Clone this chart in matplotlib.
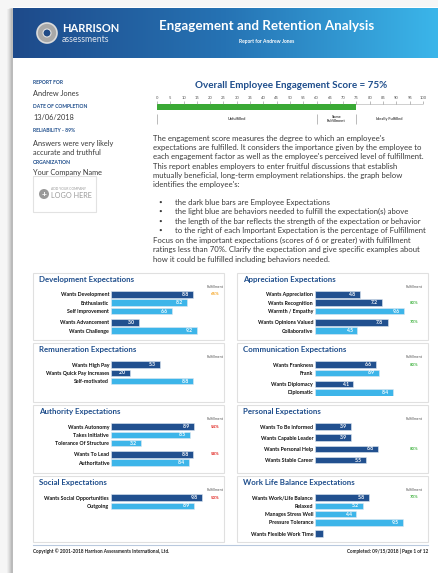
import numpy as np
import matplotlib.pyplot as plt
from matplotlib.patches import Rectangle, Circle
from matplotlib.colors import LinearSegmentedColormap

plt.rcParams['font.family'] = ['Lato', 'DejaVu Sans']

W, H = 439, 573
NAVY = '#1f4e8c'
DARK = '#21508f'
LIGHT = '#3db5e9'
TXT = '#3a3a3a'

# ---- data -------------------------------------------------------------
overall_score = 75
score_ticks = list(range(0, 101, 5))
zone_edges = [0, 60, 75, 100]
zone_labels = ['Unfulfilled', 'Some\nFulfillment', 'Ideally Fulfilled']

info_labels = ['REPORT FOR', 'DATE OF COMPLETION', 'RELIABILITY - 89%', 'ORGANIZATION']
info_values = ['Andrew Jones', '13/06/2018', 'Answers were very likely\naccurate and truthful',
               'Your Company Name']

intro_lines = [
    "The engagement score measures the degree to which an employee's",
    "expectations are fulfilled. It considers the importance given by the employee to",
    "each engagement factor as well as the employee's perceived level of fulfillment.",
    "This report enables employers to enter fruitful discussions that establish",
    "mutually beneficial, long-term employment relationships. the graph below",
    "identifies the employee's:",
]
bullet_lines = [
    "the dark blue bars are Employee Expectations",
    "the light blue are behaviors needed to fulfill the expectation(s) above",
    "the length of the bar reflects the strength of the expectation or behavior",
    "to the right of each Important Expectation is the percentage of Fulfillment",
]
focus_lines = [
    "Focus on the important expectations (scores of 6 or greater) with fulfillment",
    "ratings less than 70%. Clarify the expectation and give specific examples about",
    "how it could be fulfilled including behaviors needed.",
]

# E = expectation (dark bar), B = behaviour (light bar)
dev_names = ['Wants Development', 'Enthusiastic', 'Self Improvement', 'Wants Advancement', 'Wants Challenge']
dev_values = [8.8, 8.2, 6.6, 3.0, 9.2]
dev_kind = ['E', 'B', 'B', 'E', 'B']
dev_group = [0, 0, 0, 1, 1]
dev_fulfil = [65, None, None, None, None]

appr_names = ['Wants Appreciation', 'Wants Recognition', 'Warmth / Empathy', 'Wants Opinions Valued', 'Collaborative']
appr_values = [4.8, 7.2, 9.6, 7.8, 4.5]
appr_kind = ['E', 'E', 'B', 'E', 'B']
appr_group = [0, 0, 0, 1, 1]
appr_fulfil = [None, 80, None, 70, None]

rem_names = ['Wants High Pay', 'Wants Quick Pay Increases', 'Self-motivated']
rem_values = [5.3, 2.0, 8.8]
rem_kind = ['E', 'E', 'B']
rem_group = [0, 0, 0]
rem_fulfil = [None, None, None]

comm_names = ['Wants Frankness', 'Frank', 'Wants Diplomacy', 'Diplomatic']
comm_values = [6.6, 6.9, 4.1, 8.4]
comm_kind = ['E', 'B', 'E', 'B']
comm_group = [0, 0, 1, 1]
comm_fulfil = [80, None, None, None]

auth_names = ['Wants Autonomy', 'Takes Initiative', 'Tolerance Of Structure', 'Wants To Lead', 'Authoritative']
auth_values = [8.9, 8.5, 3.2, 8.8, 8.4]
auth_kind = ['E', 'B', 'B', 'E', 'B']
auth_group = [0, 0, 0, 1, 1]
auth_fulfil = [54, None, None, 58, None]

pers_names = ['Wants To Be Informed', 'Wants Capable Leader', 'Wants Personal Help', 'Wants Stable Career']
pers_values = [3.9, 3.9, 6.8, 5.5]
pers_kind = ['E', 'E', 'E', 'E']
pers_group = [0, 1, 2, 3]
pers_fulfil = [None, None, 80, None]

soc_names = ['Wants Social Opportunities', 'Outgoing']
soc_values = [9.8, 8.9]
soc_kind = ['E', 'B']
soc_group = [0, 0]
soc_fulfil = [50, None]

wl_names = ['Wants Work/Life Balance', 'Relaxed', 'Manages Stress Well', 'Pressure Tolerance', 'Wants Flexible Work Time']
wl_values = [5.8, 5.2, 4.4, 9.5, 0.9]
wl_kind = ['E', 'B', 'B', 'B', 'E']
wl_group = [0, 0, 0, 0, 1]
wl_fulfil = [70, None, None, None, None]

panels = [
    ('Development Expectations', dev_names, dev_values, dev_kind, dev_group, dev_fulfil),
    ('Appreciation Expectations', appr_names, appr_values, appr_kind, appr_group, appr_fulfil),
    ('Remuneration Expectations', rem_names, rem_values, rem_kind, rem_group, rem_fulfil),
    ('Communication Expectations', comm_names, comm_values, comm_kind, comm_group, comm_fulfil),
    ('Authority Expectations', auth_names, auth_values, auth_kind, auth_group, auth_fulfil),
    ('Personal Expectations', pers_names, pers_values, pers_kind, pers_group, pers_fulfil),
    ('Social Expectations', soc_names, soc_values, soc_kind, soc_group, soc_fulfil),
    ('Work Life Balance Expectations', wl_names, wl_values, wl_kind, wl_group, wl_fulfil),
]


def frac(x, y, w, h):
    # pixel box (top-left origin) -> figure fraction
    return [x / W, 1 - (y + h) / H, w / W, h / H]


fig = plt.figure(figsize=(W / 100, H / 100), dpi=100, facecolor='#f6f6f6')
page = fig.add_axes([0, 0, 1, 1])
page.set_xlim(0, W)
page.set_ylim(H, 0)
page.axis('off')

# page + soft shadow
for i, a in enumerate([0.03, 0.04, 0.05, 0.06, 0.08]):
    off = 6 - i
    page.add_patch(Rectangle((13 - off, 7 + off * 0.3), W, H, fc='black', alpha=a, lw=0))
page.add_patch(Rectangle((13, 7), W, H, fc='white', lw=0))

# header band
grad = LinearSegmentedColormap.from_list('hdr', ['#1e4a8a', '#2673b4', '#3bb6ea'])
page.imshow(np.linspace(0, 1, 256)[None, :], cmap=grad, aspect='auto',
            extent=[13, W, 58, 8], zorder=1)
page.add_patch(Circle((47, 33), 10, fc='#a8a8a8', ec='#dcdcdc', lw=1.2, zorder=2))
page.add_patch(Circle((47, 33), 4, fc='#1f4a86', ec='#e0e0e0', lw=0.8, zorder=3))
page.text(62, 29, 'HARRISON', color='white', fontsize=8, fontweight='bold', va='center', zorder=3)
page.text(62, 40, 'assessments', color='#dfe4ec', fontsize=6.3, va='center', zorder=3)
page.text(267, 26, 'Engagement and Retention Analysis', color='white', fontsize=9.6,
          fontweight='bold', ha='center', va='center', zorder=3)
page.text(267, 41, 'Report for Andrew Jones', color='white', fontsize=3.6,
          fontweight='bold', ha='center', va='center', zorder=3)

# left info column
info_y = [83, 107, 130, 163]
for lab, val, y in zip(info_labels, info_values, info_y):
    page.text(33, y, lab, color=NAVY, fontsize=3.6, fontweight='bold', va='center')
    page.text(33, y + 10, val, color=TXT, fontsize=5.3, va='top' if '\n' in val else 'center',
              linespacing=1.35)
page.add_patch(Rectangle((33, 176), 63, 36, fc='white', ec='#e2e2e2', lw=0.8))
page.add_patch(Circle((44, 194), 5, fc='#9a9a9a', lw=0))
page.text(44, 194, '+', color='white', fontsize=6, fontweight='bold', ha='center', va='center')
page.text(51, 189, 'ADD YOUR COMPANY', color='#9a9a9a', fontsize=2.4, va='center')
page.text(51, 196, 'LOGO HERE', color='#9a9a9a', fontsize=5.2, va='center')

# overall score gauge
page.text(291, 86, f'Overall Employee Engagement Score = {overall_score}%', color=NAVY,
          fontsize=7.1, fontweight='bold', ha='center', va='center')
gx = fig.add_axes(frac(157, 104.5, 266, 5.5))
gx.barh([0], [100], height=1, color='white', edgecolor='#c8c8c8', lw=0.6)
gx.barh([0], [overall_score], height=1, color='#3aa935', lw=0)
gx.set_xlim(0, 100)
gx.set_ylim(-0.5, 0.5)
gx.xaxis.tick_top()
gx.set_xticks(score_ticks)
gx.tick_params(axis='x', labelsize=3, length=2, width=0.4, color='#888888',
               labelcolor='#555555', pad=1.2)
gx.set_yticks([])
for s in gx.spines.values():
    s.set_visible(False)

zx = fig.add_axes(frac(157, 113, 266, 12))
zx.set_xlim(0, 100)
zx.set_ylim(1, 0)
zx.axis('off')
zx.vlines(zone_edges, 0.05, 0.95, color='#b0b0b0', lw=0.6)
for lo, hi, lab in zip(zone_edges[:-1], zone_edges[1:], zone_labels):
    zx.text((lo + hi) / 2, 0.5, lab, ha='center', va='center', fontsize=2.8,
            fontweight='bold', color='#444444', linespacing=1.3)

# explanatory text
FS = 5.6
y = 138
for line in intro_lines:
    page.text(153, y, line, color=TXT, fontsize=FS, va='center')
    y += 9.4
y = 202
for line in bullet_lines:
    page.text(158, y, '•', color=TXT, fontsize=4.5, va='center')
    page.text(175, y, line, color=TXT, fontsize=FS, va='center')
    y += 9.6
y = 240.5
for line in focus_lines:
    page.text(153, y, line, color=TXT, fontsize=FS, va='center')
    y += 9.4

# expectation panels
col_x = [33, 237]
row_top = [273, 343, 405, 476]
row_bot = [340, 402, 473, 542]
step = 8.3          # px per bar row
gap = 0.35          # extra space between groups (in rows)
bar_w = 93          # px for a score of 10

for k, (title, names, values, kind, group, fulfil) in enumerate(panels):
    px, r = col_x[k % 2], k // 2
    top = row_top[r]
    page.add_patch(Rectangle((px, top), 191, row_bot[r] - top, fc='white', ec='#e0e0e0', lw=0.8))
    page.text(px + 6, top + 6.5, title, color=NAVY, fontsize=5.7, fontweight='bold', va='center')

    pos = np.arange(len(names)) + gap * np.array(group)
    first = top + 21.5
    ax = fig.add_axes(frac(px + 78, first - step / 2, bar_w, (pos[-1] + 1) * step))
    cols = [DARK if c == 'E' else LIGHT for c in kind]
    ax.barh(pos, values, height=6.6 / step, color=cols, edgecolor='#dfe8f2', lw=0.4)
    ax.set_xlim(0, 10)
    ax.set_ylim(pos[-1] + 0.5, -0.5)
    for s in ax.spines.values():
        s.set_visible(False)
    ax.set_xticks([])
    ax.set_yticks(pos, names)
    ax.tick_params(axis='y', length=0, pad=1.4, labelsize=3.8, labelcolor='#111111')
    for t in ax.get_yticklabels():
        t.set_fontweight('bold')
    for p, v in zip(pos, values):
        if v >= 1.5:
            ax.text(v - 0.45, p, f'{v:.1f}', ha='right', va='center', color='white',
                    fontsize=3.6, fontweight='bold')
    fx = 11.2 if k % 2 == 0 else 10.7
    ax.text(fx, -0.85, 'Fulfillment', ha='center', va='center', fontsize=2.6,
            color='#555555', clip_on=False)
    for p, f in zip(pos, fulfil):
        if f is None:
            continue
        c = '#e0201b' if f < 60 else ('#f5a21b' if f < 70 else '#49b649')
        ax.text(fx, p, f'{f}%', ha='center', va='center', fontsize=3.2,
                fontweight='bold', color=c, clip_on=False)

# footer
page.plot([33, 428], [545, 545], color='#b9c9de', lw=0.8)
page.text(33, 551.5, 'Copyright © 2001-2018 Harrison Assessments International, Ltd.',
          color='#222222', fontsize=3.4, fontweight='bold', va='center')
page.text(428, 551.5, 'Completed: 09/15/2018 | Page 1 of 12', color='#222222',
          fontsize=3.4, fontweight='bold', va='center', ha='right')

fig.savefig('out.png', dpi=100, facecolor=fig.get_facecolor())
